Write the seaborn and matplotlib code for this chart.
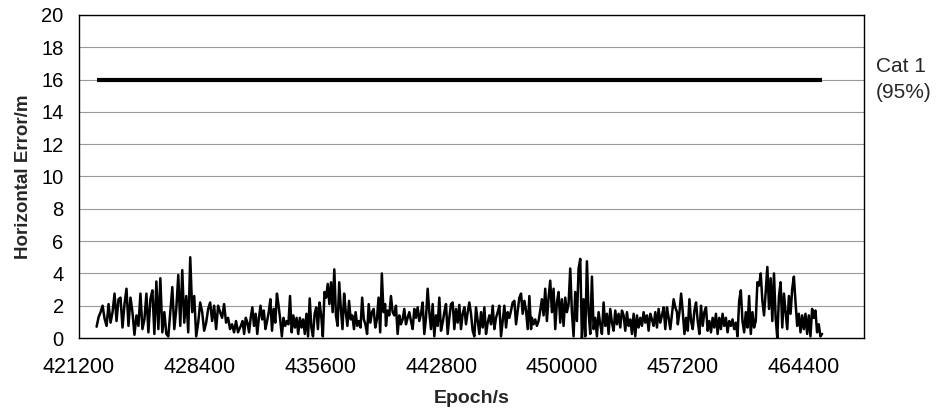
import numpy as np
import pandas as pd
import matplotlib
matplotlib.use("Agg")
import matplotlib.pyplot as plt
import seaborn as sns

# ---------------- data ----------------
x_ticks = [421200, 428400, 435600, 442800, 450000, 457200, 464400]
y_ticks = [0, 2, 4, 6, 8, 10, 12, 14, 16, 18, 20]

cat1_epochs = [422250, 465500]
cat1_limit = [16, 16]

seg_start = [422250, 430850, 439500, 448200, 456900]
seg_end = [430800, 439450, 448150, 456850, 465500]

seg1 = [0.7, 1.3, 1.6, 2.0, 1.2, 0.75, 2.1, 0.95, 1.6, 2.75, 1.05, 2.4, 2.5, 0.65, 2.1,
        3.05, 0.75, 2.5, 1.6, 0.2, 1.4, 0.75, 2.75, 0.55, 1.15, 2.75, 0.35, 2.4, 2.95,
        0.25, 3.5, 0.55, 3.7, 0.35, 1.6, 0.25, 0.1, 1.6, 3.15, 0.55, 1.8, 3.9, 0.75, 4.2,
        0.95, 2.6, 0.35, 5.0, 1.6, 2.6, 0.1, 0.95, 2.2, 1.6, 0.45, 0.95, 1.8, 2.2, 1.05,
        2.0, 0.55, 2.0, 1.6, 1.25, 2.1, 0.95, 1.25, 0.55, 0.85, 0.35, 1.05, 0.35, 0.65]
seg2 = [0.75, 1.05, 0.25, 1.25, 0.95, 0.35, 1.25, 1.9, 0.75, 1.5, 0.25, 1.25, 2.0, 1.15,
        1.7, 0.55, 1.05, 1.6, 2.4, 0.45, 1.8, 0.95, 2.75, 2.0, 1.15, 0.1, 1.25, 0.75, 1.05,
        0.85, 2.6, 0.35, 1.4, 0.65, 1.25, 0.25, 1.25, 0.65, 1.15, 0.25, 1.5, 0.1, 2.45,
        0.65, 0.1, 1.5, 1.9, 0.55, 2.2, 1.4, 0.1, 2.85, 2.5, 3.35, 2.1, 3.45, 1.6, 4.25,
        1.4, 0.75, 3.45, 1.8, 0.55, 2.75, 1.6, 0.75, 2.3, 1.15, 1.4, 0.55, 1.6, 0.75, 1.05,
        0.65, 2.5, 1.15, 0.85, 0.25, 2.1, 0.95, 1.6, 1.8, 0.65, 1.15, 2.5, 0.35, 4.0, 1.6, 2.1]
seg3 = [0.75, 1.7, 1.4, 2.6, 1.6, 1.4, 2.0, 0.25, 1.4, 0.85, 1.15, 1.8, 0.85, 1.25, 1.6,
        1.05, 0.55, 1.8, 1.25, 1.9, 1.05, 1.5, 2.2, 0.25, 1.25, 3.05, 1.6, 0.55, 2.1, 0.1,
        1.4, 0.75, 2.5, 0.45, 0.95, 1.6, 2.1, 0.25, 1.25, 2.1, 2.2, 0.55, 1.8, 0.95, 2.05,
        0.55, 1.5, 1.9, 0.85, 1.6, 2.2, 1.5, 0.45, 0.1, 1.9, 1.05, 0.25, 1.6, 0.65, 1.9,
        0.25, 0.95, 1.4, 0.85, 2.0, 0.55, 1.25, 1.6, 2.0, 0.1, 1.05, 2.0, 0.65, 1.6, 1.25,
        1.7, 2.2, 2.3, 0.85, 1.7, 2.5, 2.75, 1.5, 2.3, 1.7, 0.55, 2.6, 0.55]
seg4 = [1.25, 0.85, 1.15, 0.75, 1.05, 1.7, 2.4, 1.4, 3.05, 1.05, 2.5, 3.55, 1.6, 3.05, 0.55,
        2.2, 2.85, 0.95, 2.4, 0.75, 2.5, 1.6, 2.1, 4.3, 1.6, 0.1, 2.85, 1.05, 4.3, 4.9, 0.0,
        2.4, 0.1, 4.75, 1.6, 0.25, 3.8, 0.55, 1.25, 0.1, 1.6, 0.85, 0.25, 2.2, 0.75, 1.5,
        0.25, 1.8, 0.95, 0.45, 1.7, 0.85, 1.5, 0.65, 1.7, 1.4, 0.45, 1.6, 0.75, 1.15, 0.25,
        1.5, 0.1, 1.4, 0.65, 1.25, 0.75, 1.6, 0.95, 1.4, 0.45, 1.5, 1.15, 0.75, 1.6, 0.65,
        1.8, 0.95, 1.4, 1.9, 0.55, 1.9, 1.25, 0.55, 1.5, 2.4, 1.9, 1.6]
seg5 = [0.85, 1.6, 2.75, 1.6, 0.25, 1.25, 0.45, 2.4, 1.05, 0.55, 1.7, 2.2, 1.05, 0.25, 2.0,
        0.75, 1.6, 1.9, 0.45, 1.05, 0.35, 1.25, 0.65, 1.5, 0.25, 1.25, 0.55, 1.5, 0.75, 1.25,
        0.35, 1.05, 0.75, 1.15, 0.55, 0.95, 0.1, 2.3, 2.95, 1.05, 0.35, 1.6, 0.65, 2.6, 0.25,
        1.6, 0.65, 1.05, 3.45, 3.25, 4.0, 2.3, 1.4, 2.85, 4.4, 1.8, 3.7, 1.05, 4.0, 1.25,
        0.0, 2.6, 3.45, 0.65, 2.75, 1.6, 0.55, 2.6, 1.5, 3.05, 3.8, 2.2, 0.75, 1.5, 0.35,
        1.4, 0.55, 1.5, 0.25, 1.4, 0.1, 1.8, 1.25, 1.7, 0.35, 0.85, 0.1, 0.25]

segments = [seg1, seg2, seg3, seg4, seg5]
epochs = np.concatenate([np.linspace(s, e, len(v)) for s, e, v in zip(seg_start, seg_end, segments)])
errors = np.concatenate([np.array(v, dtype=float) for v in segments])
df = pd.DataFrame({"Epoch": epochs, "Error": errors})
df_cat = pd.DataFrame({"Epoch": cat1_epochs, "Limit": cat1_limit})

# ---------------- style ----------------
sns.set_style("white")
plt.rcParams["font.family"] = ["Liberation Sans", "DejaVu Sans"]

fig = plt.figure(figsize=(9.37, 4.12), dpi=100)
ax = fig.add_axes([79 / 937, 1 - 338 / 412, (864 - 79) / 937, (338 - 15) / 412])

sns.lineplot(data=df, x="Epoch", y="Error", ax=ax, color="black", linewidth=1.8,
             estimator=None, sort=False)
sns.lineplot(data=df_cat, x="Epoch", y="Limit", ax=ax, color="black", linewidth=3.0,
             estimator=None, sort=False, solid_capstyle="butt")

ax.set_xlim(421200, 468000)
ax.set_ylim(0, 20)
ax.set_xticks(x_ticks)
ax.set_xticklabels([str(t) for t in x_ticks])
ax.set_yticks(y_ticks)
ax.set_yticklabels([str(t) for t in y_ticks])

ax.yaxis.grid(True, color="#999999", linewidth=0.8)
ax.set_axisbelow(True)
for s in ax.spines.values():
    s.set_color("black")
    s.set_linewidth(1.0)
    s.set_visible(True)

ax.tick_params(axis="both", direction="out", length=5, width=0.8, color="#666666",
               labelcolor="black")
ax.tick_params(axis="x", pad=9, labelsize=15.5)
ax.tick_params(axis="y", pad=6, labelsize=14.5)

ax.set_xlabel("Epoch/s", fontsize=14, fontweight="bold", labelpad=8)
ax.set_ylabel("Horizontal Error/m", fontsize=13.5, fontweight="bold", labelpad=7)

ax.text(1.015, 16, "Cat 1\n(95%)", transform=ax.get_yaxis_transform(),
        ha="left", va="center", fontsize=15, linespacing=1.5)

fig.savefig("out.png", dpi=100)
